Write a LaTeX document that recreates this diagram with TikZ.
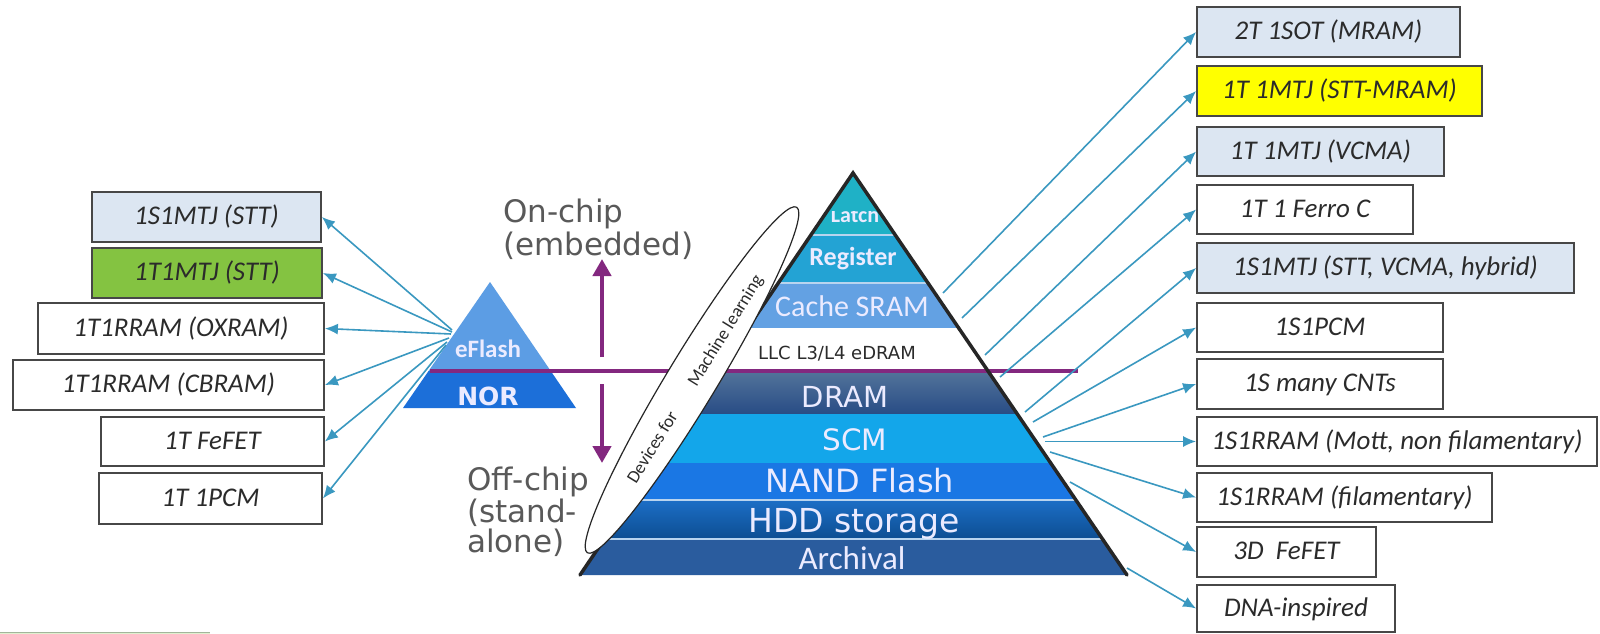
\documentclass[tikz,border=0pt]{standalone}
\usepackage{fontspec}
\setmainfont{Carlito}
\newfontfamily\dejavu{DejaVu Sans}
\usetikzlibrary{arrows.meta,shapes.geometric}

\definecolor{lightcell}{HTML}{DCE6F2}
\definecolor{greencell}{HTML}{84C341}
\definecolor{yellowcell}{HTML}{FFFF00}
\definecolor{cellline}{HTML}{474747}
\definecolor{celltext}{HTML}{2B2B2B}
\definecolor{linkblue}{HTML}{3A98C0}
\definecolor{purp}{HTML}{83287F}
\definecolor{edgec}{HTML}{262626}
\definecolor{greytext}{HTML}{595959}
\definecolor{latchc}{HTML}{1FB1C6}
\definecolor{regc}{HTML}{23A3D4}
\definecolor{cachec}{HTML}{63A1E3}
\definecolor{dramtop}{HTML}{52739A}
\definecolor{drambot}{HTML}{284C85}
\definecolor{scmc}{HTML}{13A6EA}
\definecolor{nandc}{HTML}{1A77E4}
\definecolor{hddtop}{HTML}{1C6EC6}
\definecolor{hddbot}{HTML}{0D4E92}
\definecolor{archc}{HTML}{2A5C9E}
\definecolor{sepc}{HTML}{B8D4EF}
\definecolor{eflashc}{HTML}{5C9DE4}
\definecolor{norc}{HTML}{1C6FD9}
\definecolor{legendc}{HTML}{A3B59A}

\tikzset{
  cell/.style={draw=cellline, line width=1.8pt, rectangle, inner sep=0pt,
    minimum height=50pt, text=celltext, text height=19pt, text depth=4pt,
    font=\fontsize{27}{30}\selectfont\itshape},
  link/.style={draw=linkblue, line width=1.6pt, -{Latex[length=13pt,width=11pt]}},
  updown/.style={draw=purp, line width=4.5pt, -{Triangle[length=17pt,width=18pt]}},
  lab/.style={anchor=base, inner sep=0pt, text=white!92!blue},
  side/.style={anchor=base west, inner sep=0pt, text=greytext,
    font=\dejavu\fontsize{31}{36}\selectfont},
  edge/.style={draw=edgec, line width=3.5pt, line join=miter, line cap=round},
  sepline/.style={draw=sepc, line width=1.2pt},
  mllabel/.style={rotate=58.3, inner sep=0pt, text=celltext, font=\fontsize{18}{20}\selectfont}
}

\begin{document}
\begin{tikzpicture}[x=1pt,y=-1pt]
\useasboundingbox (0,0) rectangle (1600,634);
\fill[white] (0,0) rectangle (1600,634);

% ---------- main memory pyramid ----------
\coordinate (apex) at (853,173);
\coordinate (bl) at (580,575);
\coordinate (br) at (1127,575);
\begin{scope}
  \clip (apex) -- (bl) -- (br) -- cycle;
  \fill[latchc] (560,165) rectangle (1140,235);
  \fill[regc]   (560,235) rectangle (1140,283);
  \fill[cachec] (560,283) rectangle (1140,328);
  \fill[white]  (560,328) rectangle (1140,372);
  \shade[top color=dramtop, bottom color=drambot] (560,372) rectangle (1140,414);
  \fill[scmc]   (560,414) rectangle (1140,463);
  \fill[nandc]  (560,463) rectangle (1140,500);
  \shade[top color=hddtop, bottom color=hddbot] (560,500) rectangle (1140,539);
  \fill[archc]  (560,539) rectangle (1140,580);
  \draw[sepline] (560,235) -- (1140,235);
  \draw[sepline] (560,283) -- (1140,283);
  \draw[sepline] (560,500) -- (1140,500);
  \draw[sepline] (560,539) -- (1140,539);
  \begin{scope}
    \clip (800,211) rectangle (900,236);
    \node[lab, font=\bfseries\fontsize{22}{24}\selectfont] (latch) at (855,222) {Latch};
  \end{scope}
\end{scope}

\node[lab, font=\bfseries\fontsize{26}{28}\selectfont] (register) at (853,265) {Register};
\node[lab, font=\fontsize{30}{32}\selectfont] (cache) at (852,316) {Cache SRAM};
\node[lab, text=celltext, font=\dejavu\fontsize{18}{20}\selectfont] (llc) at (837,359) {LLC L3/L4 eDRAM};
\node[lab, font=\dejavu\fontsize{29}{31}\selectfont] (dram) at (845,407) {DRAM};
\node[lab, font=\dejavu\fontsize{29.5}{31}\selectfont] (scm) at (855,450) {SCM};
\node[lab, font=\dejavu\fontsize{32}{34}\selectfont] (nand) at (860,492) {NAND Flash};
\node[lab, font=\dejavu\fontsize{33}{35}\selectfont] (hdd) at (854,532) {HDD storage};
\node[lab, font=\fontsize{33}{35}\selectfont] (arch) at (852,569) {Archival};

% ---------- embedded pyramid ----------
\coordinate (sapex) at (490,282);
\coordinate (sbl) at (403,408);
\coordinate (sbr) at (576,408);
\begin{scope}
  \clip (sapex) -- (sbl) -- (sbr) -- cycle;
  \fill[eflashc] (395,275) rectangle (585,371);
  \fill[norc] (395,371) rectangle (585,412);
\end{scope}
\node[lab, font=\bfseries\fontsize{25}{27}\selectfont] (eflash) at (488,357) {eFlash};
\node[lab, font=\dejavu\bfseries\fontsize{25}{27}\selectfont] (nor) at (488,405) {NOR};

% ---------- on-chip / off-chip divider ----------
\coordinate (divL) at (430,371);
\coordinate (divR) at (1078,371);
\draw[purp, line width=4.5pt] (divL) -- (divR);
\coordinate (upS) at (602,357);
\coordinate (upT) at (602,259);
\coordinate (dnS) at (602,384);
\coordinate (dnT) at (602,463);
\draw[updown] (upS) -- (upT);
\draw[updown] (dnS) -- (dnT);

\draw[edge] (bl) -- (apex) -- (br);

\node[side] (on1) at (503,222) {On-chip};
\node[side] (on2) at (503,255) {(embedded)};
\node[side] (off1) at (467,490) {Off-chip};
\node[side] (off2) at (467,522) {(stand-};
\node[side] (off3) at (467,552) {alone)};

% ---------- machine learning envelope ----------
\node[ellipse, draw=edgec, fill=white, line width=1.2pt, inner sep=0pt,
      minimum width=404pt, minimum height=50pt, rotate=58.8] (mlbox) at (692,380) {};
\node[mllabel] (mltext1) at (652,447) {Devices for};
\node[mllabel] (mltext2) at (726,331) {Machine learning};

% ---------- embedded device options ----------
\node[cell, fill=lightcell, minimum width=229pt] (l1) at (206.5,217) {1S1MTJ (STT)};
\node[cell, fill=greencell, minimum width=230pt] (l2) at (207,273) {1T1MTJ (STT)};
\node[cell, fill=white, minimum width=286pt, minimum height=51pt] (l3) at (181,328.5) {1T1RRAM (OXRAM)};
\node[cell, fill=white, minimum width=311pt] (l4) at (168.5,385) {1T1RRAM (CBRAM)};
\node[cell, fill=white, minimum width=223pt, minimum height=49pt] (l5) at (212.5,441.5) {1T FeFET};
\node[cell, fill=white, minimum width=223pt, minimum height=51pt] (l6) at (210.5,498.5) {1T 1PCM};

\coordinate (ls1) at (452,330);
\coordinate (ls2) at (452,332);
\coordinate (ls3) at (451,334);
\coordinate (ls4) at (449,338);
\coordinate (ls5) at (447,342);
\coordinate (ls6) at (446,345);
\draw[link] (ls1) -- (l1.east);
\draw[link] (ls2) -- (l2.east);
\draw[link] (ls3) -- (l3.east);
\draw[link] (ls4) -- (l4.east);
\draw[link] (ls5) -- (l5.east);
\draw[link] (ls6) -- (l6.east);

% ---------- stand-alone / emerging device options ----------
\node[cell, fill=lightcell, minimum width=263pt] (r1) at (1328.5,32) {2T 1SOT (MRAM)};
\node[cell, fill=yellowcell, minimum width=285pt] (r2) at (1339.5,91) {1T 1MTJ (STT-MRAM)};
\node[cell, fill=lightcell, minimum width=247pt, minimum height=49pt] (r3) at (1320.5,151.5) {1T 1MTJ (VCMA)};
\node[cell, fill=white, minimum width=216pt, minimum height=49pt] (r4) at (1305,209.5) {1T 1 Ferro C};
\node[cell, fill=lightcell, minimum width=377pt] (r5) at (1385.5,268) {1S1MTJ (STT, VCMA, hybrid)};
\node[cell, fill=white, minimum width=246pt, minimum height=49pt] (r6) at (1320,327.5) {1S1PCM};
\node[cell, fill=white, minimum width=246pt] (r7) at (1320,384) {1S many CNTs};
\node[cell, fill=white, minimum width=400pt, minimum height=49pt] (r8) at (1397,441.5) {1S1RRAM (Mott, non filamentary)};
\node[cell, fill=white, minimum width=295pt, minimum height=49pt] (r9) at (1344.5,497.5) {1S1RRAM (filamentary)};
\node[cell, fill=white, minimum width=179pt] (r10) at (1286.5,552) {3D\ \ FeFET};
\node[cell, fill=white, minimum width=198pt, minimum height=47pt] (r11) at (1296,608.5) {DNA-inspired};

\coordinate (rs1) at (943,293);
\coordinate (rs2) at (962,318);
\coordinate (rs3) at (985,355);
\coordinate (rs4) at (1000,377);
\coordinate (rs5) at (1025,412);
\coordinate (rs6) at (1033,422);
\coordinate (rs7) at (1043,437);
\coordinate (rs8) at (1045,441.5);
\coordinate (rs9) at (1050,452);
\coordinate (rs10) at (1070,482);
\coordinate (rs11) at (1127,568);
\draw[link] (rs1) -- (r1.west);
\draw[link] (rs2) -- (r2.west);
\draw[link] (rs3) -- (r3.west);
\draw[link] (rs4) -- (r4.west);
\draw[link] (rs5) -- (r5.west);
\draw[link] (rs6) -- (r6.west);
\draw[link] (rs7) -- (r7.west);
\draw[link] (rs8) -- (r8.west);
\draw[link] (rs9) -- (r9.west);
\draw[link] (rs10) -- (r10.west);
\draw[link] (rs11) -- (r11.west);

% ---------- legend box peeking in at the lower edge ----------
\fill[greencell!25!white] (0,632) rectangle (210,634);
\draw[legendc, line width=1pt] (0,632.5) -- (210,632.5);
\end{tikzpicture}
\end{document}
